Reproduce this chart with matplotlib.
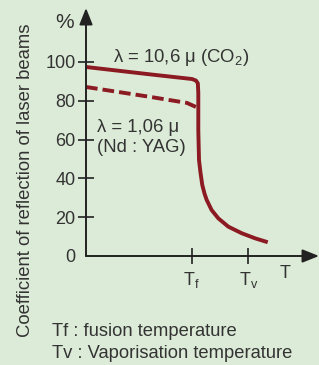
import matplotlib
matplotlib.use("Agg")
import matplotlib.pyplot as plt

# reflection coefficient (%) vs temperature (arbitrary units)
co2_temp = [0, 27.5, 45.5, 47.2, 48.0, 48.2, 48.2, 48.5, 49.1, 49.9, 50.9,
            51.8, 53.9, 56.8, 61.1, 66.9, 72.6, 78.0]
co2_refl = [97.4, 93.6, 91.2, 90.4, 89.0, 84.0, 64.9, 49.5, 43.3, 36.6, 32.0,
            28.9, 23.7, 19.4, 15.1, 11.7, 9.1, 7.1]

yag_temp = [0, 27.5, 43.3, 47.2]
yag_refl = [87.1, 82.0, 78.9, 76.8]

y_ticks = [0, 20, 40, 60, 80, 100]
x_ticks = [45.4, 69.7]
x_tick_labels = [r"$\mathregular{T_f}$", r"$\mathregular{T_v}$"]

W, H = 319, 365
BG = "#dcebd7"
RED = "#8b1a22"
INK = "#333333"

plt.rcParams["font.family"] = ["Liberation Sans", "DejaVu Sans"]

fig = plt.figure(figsize=(W / 100, H / 100), dpi=100, facecolor=BG)
ax = fig.add_axes([86 / W, (H - 256) / H, (W - 86) / W, (256 - 8) / H])
ax.set_facecolor(BG)
ax.set_xlim(0, 100)
ax.set_ylim(0, 127.8)
for s in ax.spines.values():
    s.set_visible(False)

# axes with arrows
ax.annotate("", xy=(1, 0), xytext=(0, 0), xycoords="axes fraction",
            arrowprops=dict(arrowstyle="-|>,head_length=1.0,head_width=0.4",
                            color="#222222", lw=1.4, shrinkA=0, shrinkB=0))
ax.annotate("", xy=(0, 1), xytext=(0, 0), xycoords="axes fraction",
            arrowprops=dict(arrowstyle="-|>,head_length=1.0,head_width=0.4",
                            color="#222222", lw=1.4, shrinkA=0, shrinkB=0))

ax.set_yticks(y_ticks)
ax.set_yticklabels([str(v) for v in y_ticks])
ax.tick_params(axis="y", direction="inout", length=11, width=1.2,
               color="#222222", labelsize=13, labelcolor=INK, pad=2)
ax.yaxis.get_major_ticks()[0].tick1line.set_visible(False)

ax.set_xticks(x_ticks)
ax.set_xticklabels(x_tick_labels)
ax.tick_params(axis="x", direction="inout", length=12, width=1.2,
               color="#222222", labelsize=13, labelcolor=INK, pad=4)

ax.plot(co2_temp, co2_refl, color=RED, lw=2.8, solid_joinstyle="round",
        solid_capstyle="butt", clip_on=False)
ax.plot(yag_temp, yag_refl, color=RED, lw=2.8, dashes=(3.0, 1.3), clip_on=False)


def ftext(x, y, s, **kw):
    fig.text(x / W, 1 - y / H, s, color=INK, **kw)


ftext(65, 22, "%", fontsize=15, ha="center", va="center")
ftext(285, 274, "T", fontsize=13, ha="center", va="center")
ftext(113, 57, r"λ = 10,6 μ (CO$\mathregular{_2}$)", fontsize=13.3, ha="left", va="center")
ftext(97, 127, "λ = 1,06 μ", fontsize=13.3, ha="left", va="center")
ftext(97, 147, "(Nd : YAG)", fontsize=13.3, ha="left", va="center")
ftext(26, 180, "Coefficient of reflection of laser beams", fontsize=13.3,
      rotation=90, ha="center", va="center")
ftext(52, 331, "Tf : fusion temperature", fontsize=13.2, ha="left", va="center")
ftext(52, 353, "Tv : Vaporisation temperature", fontsize=13.2, ha="left", va="center")

fig.savefig("out.png", dpi=100, facecolor=BG)
